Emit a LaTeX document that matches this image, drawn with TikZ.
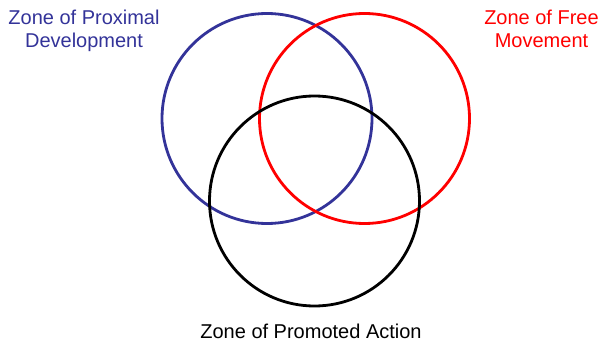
\documentclass[tikz,border=0pt]{standalone}
\usepackage{fontspec}
\setmainfont{Liberation Sans}
\definecolor{zpdblue}{RGB}{51,51,153}
\definecolor{zfmred}{RGB}{255,0,0}
\begin{document}
\begin{tikzpicture}[x=1pt,y=-1pt,
  zone/.style={draw, line width=2.8pt, fill=none, circle, minimum size=210pt, inner sep=0pt},
  zonelabel/.style={font=\fontsize{20}{23}\selectfont, align=center, inner sep=0pt, anchor=base}]
  \useasboundingbox (0,0) rectangle (605,342);
  % the three zones
  \node[zone, draw=zpdblue] (zpd) at (267,118.5) {};
  \node[zone, draw=zfmred]  (zfm) at (364.5,118.5) {};
  \node[zone, draw=black]   (zpa) at (314.5,201) {};
  % zone names (base anchor sits on the last line's baseline)
  \node[zonelabel, text=zpdblue] (lzpd) at (84,48) {Zone of Proximal\\Development};
  \node[zonelabel, text=zfmred]  (lzfm) at (541.5,48) {Zone of Free\\Movement};
  \node[zonelabel, text=black]   (lzpa) at (311,338) {Zone of Promoted Action};
\end{tikzpicture}
\end{document}
